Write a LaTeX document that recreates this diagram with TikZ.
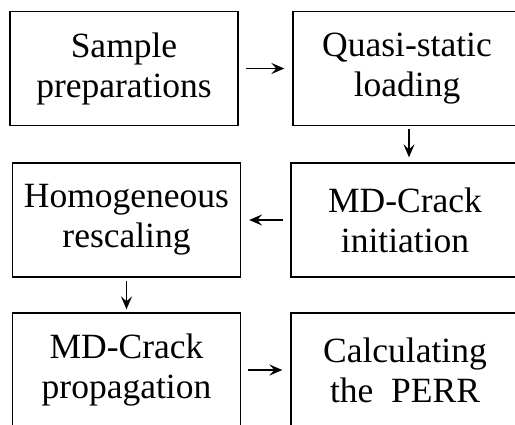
\documentclass[tikz,border=0pt]{standalone}
\usepackage{fontspec}
\setmainfont{Liberation Serif}
\usepackage{tikz}
\usetikzlibrary{positioning, arrows.meta}

\begin{document}
\begin{tikzpicture}[
    % GLOBAL CFG
    x=1pt, y=-1pt,
    font=\fontsize{35.5}{40}\selectfont,
    >={Stealth[length=13pt, width=11pt, inset=5pt]},
    % Styles
    stage/.style={% For the process boxes
        rectangle,
        draw,
        line width=1.3pt,
        minimum width=228pt,
        minimum height=114pt,
        inner sep=0pt,
        align=center,
        },
    flow/.style={% Arrows between the boxes
        ->,
        line width=1.6pt,
        shorten <=7pt,
        shorten >=8pt,
        },
    ]

% Page frame, the right column and the last row run off the page
    \clip (0,0) rectangle (515,425);

% Draw the stages
    \node [stage] (sample) at (124,68.5) {Sample\\preparations};
    \node [stage] (quasi) at (407,68.5) {Quasi-static\\loading};
    \node [stage] (homog) at (126.5,220) {Homogeneous\\rescaling};
    \node [stage] (init) at (405,220) {MD-Crack\\initiation};
    \node [stage] (prop) at (126.5,370) {MD-Crack\\propagation};
    \node [stage] (perr) at (405,370) {Calculating\\the~ PERR};

% Connect them
    \draw [flow] (sample) -- (quasi);
    \draw [flow, shorten <=3pt, shorten >=5pt] (quasi.south -| 409,0) -- (init.north -| 409,0);
    \draw [flow] (init) -- (homog);
    \draw [flow, shorten <=3pt, shorten >=3pt] (homog) -- (prop);
    \draw [flow] (prop) -- (perr);

\end{tikzpicture}
\end{document}
